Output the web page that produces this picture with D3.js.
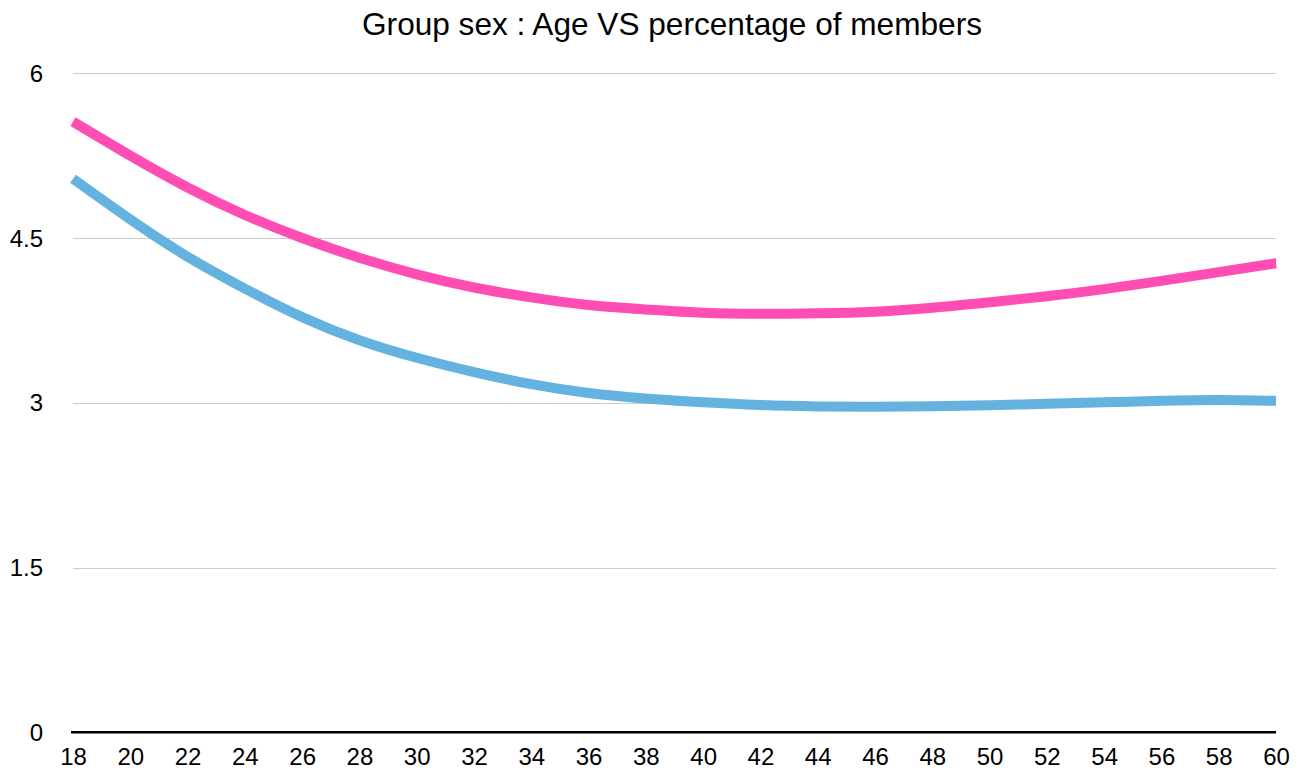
<!DOCTYPE html>
<html>
<head>
<meta charset="utf-8">
<script src="https://cdn.jsdelivr.net/npm/d3@7"></script>
<style>
  html, body { margin: 0; padding: 0; background: #fff; }
  svg { display: block; font-family: "Liberation Sans", Arial, Helvetica, sans-serif; }
</style>
</head>
<body>
<svg id="chart" width="1305" height="772"></svg>
<script>
const title = "Group sex : Age VS percentage of members";
const ages = [18,20,22,24,26,28,30,32,34,36,38,40,42,44,46,48,50,52,54,56,58,60];
const pinkValues = [5.56,5.25,4.96,4.71,4.50,4.32,4.17,4.05,3.96,3.89,3.85,3.82,3.81,3.815,3.83,3.865,3.915,3.97,4.035,4.11,4.19,4.27];
const blueValues = [5.04,4.67,4.33,4.04,3.78,3.57,3.41,3.28,3.17,3.09,3.04,3.005,2.98,2.967,2.963,2.968,2.978,2.992,3.005,3.018,3.025,3.018];
const yTicks = [0,1.5,3,4.5,6];

const svg = d3.select("#chart");
const mLeft = 73, mRight = 1276, mTop = 73.3, mBottom = 732.3;

const x = d3.scaleLinear().domain([18,60]).range([mLeft,mRight]);
const y = d3.scaleLinear().domain([0,6]).range([mBottom,mTop]);

// title
svg.append("text")
  .attr("x", 672).attr("y", 35)
  .attr("text-anchor","middle")
  .attr("font-size", 31.6)
  .attr("fill","#000")
  .text(title);

// grid lines + y labels
const yAxis = d3.axisLeft(y).tickValues(yTicks).tickSize(-(mRight-mLeft)).tickPadding(30)
  .tickFormat(d => d3.format("")(d));
const gy = svg.append("g").attr("transform", `translate(${mLeft},0)`).call(yAxis);
gy.select(".domain").remove();
gy.selectAll(".tick line").attr("stroke","#cccccc").attr("stroke-width",1)
  .attr("shape-rendering","crispEdges");
gy.selectAll(".tick text").attr("font-size",24).attr("fill","#000")
  .attr("font-family","'Liberation Sans', Arial, sans-serif")
  .attr("x", -30).attr("dy","0.34em");
gy.selectAll(".tick").filter(d => d === 0).select("line").remove();

// x axis
const xAxis = d3.axisBottom(x).tickValues(ages).tickSize(0).tickPadding(0);
const gx = svg.append("g").attr("transform", `translate(0,${mBottom})`).call(xAxis);
gx.select(".domain").remove();
gx.selectAll(".tick text").attr("font-size",24).attr("fill","#000")
  .attr("font-family","'Liberation Sans', Arial, sans-serif")
  .attr("y", 33).attr("dy", 0);

// baseline
svg.append("line")
  .attr("x1", mLeft - 2).attr("x2", mRight)
  .attr("y1", y(0)).attr("y2", y(0))
  .attr("stroke","#000").attr("stroke-width",2.5);

const line = d3.line().x((d,i) => x(ages[i])).y(d => y(d)).curve(d3.curveNatural);

svg.append("path").datum(blueValues)
  .attr("d", line).attr("fill","none")
  .attr("stroke","#63b2df").attr("stroke-width",10).attr("stroke-linecap","butt");

svg.append("path").datum(pinkValues)
  .attr("d", line).attr("fill","none")
  .attr("stroke","#ff4db3").attr("stroke-width",10).attr("stroke-linecap","butt");
</script>
</body>
</html>
